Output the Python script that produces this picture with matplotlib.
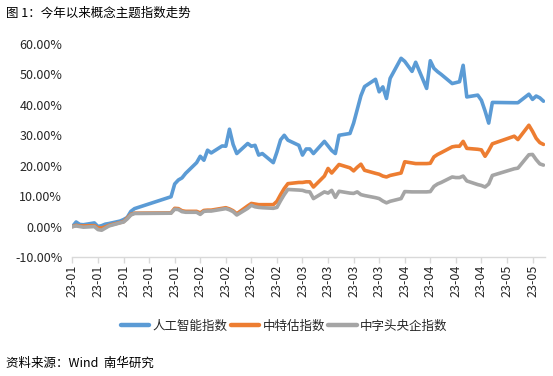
import matplotlib
matplotlib.use("Agg")
import matplotlib.pyplot as plt
import matplotlib.dates as mdates
import pandas as pd
import numpy as np

plt.rcParams['font.family'] = ['Noto Sans CJK SC', 'DejaVu Sans']

dates = (
    ['2023-01-%02d' % d for d in [3, 4, 5, 6, 9, 10, 11, 12, 13, 16, 17, 18, 19, 20, 30, 31]] +
    ['2023-02-%02d' % d for d in [1, 2, 3, 6, 7, 8, 9, 10, 13, 14, 15, 16, 17, 20, 21, 22, 23, 24, 27, 28]] +
    ['2023-03-%02d' % d for d in [1, 2, 3, 6, 7, 8, 9, 10, 13, 14, 15, 16, 17, 20, 21, 22, 23, 24, 27, 28, 29, 30, 31]] +
    ['2023-04-%02d' % d for d in [3, 4, 6, 7, 10, 11, 12, 13, 14, 17, 18, 19, 20, 21, 24, 25, 26, 27, 28]] +
    ['2023-05-%02d' % d for d in [4, 5, 8, 9, 10, 11, 12]]
)

ai_index = [
    # Jan
    0, 1.5, 0.7, 0.6, 1.2, 0, 0.3, 0.8, 1.0, 1.8, 2.3, 3.0, 5.0, 5.9, 9.8, 14.0,
    # Feb
    15.3, 16.0, 17.5, 21.0, 23.1, 21.8, 25.1, 24.2, 26.5, 26.4, 32.0, 27.0, 24.0, 27.3, 26.4, 26.7, 23.5, 24.0, 21.0, 24.5,
    # Mar
    28.5, 30.0, 28.4, 26.7, 23.5, 25.5, 25.5, 24.0, 28.0, 26.5, 25.0, 24.0, 30.0, 30.6, 34.0, 38.5, 43.0, 46.0, 48.4, 44.3, 45.9, 42.1, 48.7,
    # Apr
    55.3, 54.3, 51.0, 54.0, 45.4, 54.5, 52.0, 50.9, 50.0, 47.0, 47.3, 47.6, 53.0, 42.6, 43.2, 41.5, 38.0, 34.0, 40.8,
    # May
    40.7, 40.7, 43.5, 41.8, 42.9, 42.3, 41.2,
]

zte_index = [
    # Jan
    0, 0.4, 0.2, 0.2, 0.3, -0.4, -0.5, -0.1, 0.4, 1.3, 1.6, 2.8, 4.0, 4.4, 4.5, 6.0,
    # Feb
    5.9, 5.2, 5.0, 5.0, 4.5, 5.3, 5.4, 5.4, 6.0, 6.2, 5.8, 5.2, 4.2, 6.8, 7.6, 7.4, 7.2, 7.2, 7.2, 8.3,
    # Mar
    10.5, 12.5, 14.1, 14.5, 14.5, 14.7, 14.7, 13.0, 16.6, 19.1, 17.6, 19.0, 20.4, 19.3, 18.3, 19.5, 20.5, 18.5, 17.5, 17.2, 16.6, 16.3, 16.8,
    # Apr
    17.6, 21.3, 20.9, 20.7, 20.7, 20.8, 22.9, 23.7, 24.3, 26.2, 26.4, 26.4, 28.0, 25.7, 25.4, 25.2, 23.1, 25.0, 27.2,
    # May
    29.7, 28.6, 33.3, 31.3, 29.0, 27.6, 27.0,
]

soe_index = [
    # Jan
    0, 0.2, 0, -0.2, 0, -1.0, -1.2, -0.5, 0.2, 1.2, 1.5, 2.5, 3.8, 4.3, 4.4, 5.7,
    # Feb
    5.6, 4.9, 4.7, 4.7, 4.0, 5.0, 5.1, 5.1, 5.7, 5.9, 5.5, 4.9, 3.8, 6.0, 7.0, 6.5, 6.3, 6.2, 6.0, 6.3,
    # Mar
    8.5, 10.5, 12.2, 12.0, 11.9, 11.5, 11.4, 9.2, 11.4, 11.0, 11.9, 9.6, 11.6, 11.0, 10.9, 11.4, 10.5, 10.2, 9.5, 9.2, 8.4, 7.8, 8.3,
    # Apr
    9.2, 11.5, 11.4, 11.4, 11.4, 11.5, 13.2, 14.0, 14.5, 16.3, 16.1, 16.1, 16.6, 15.0, 13.8, 13.5, 13.0, 14.0, 16.8,
    # May
    19.0, 19.2, 23.6, 23.7, 22.0, 20.6, 20.2,
]

series_names = ['人工智能指数', '中特估指数', '中字头央企指数']
series_colors = ['#5B9BD5', '#ED7D31', '#A5A5A5']
yticks = [-10, 0, 10, 20, 30, 40, 50, 60]

x = pd.to_datetime(dates)

W, H = 553, 376
fig = plt.figure(figsize=(W / 100, H / 100), dpi=100)
ax = fig.add_axes([72 / W, 1 - 257 / H, (545 - 72) / W, (257 - 44) / H])

for vals, name, col in zip([ai_index, zte_index, soe_index], series_names, series_colors):
    ax.plot(x, vals, color=col, lw=2.6, label=name, solid_joinstyle='round', solid_capstyle='round')

ax.set_ylim(-10, 60)
ax.set_yticks(yticks)
ax.set_yticklabels([f'{v:.2f}%' for v in yticks])

start = pd.Timestamp('2023-01-03')
ax.set_xlim(start - pd.Timedelta(hours=3), pd.Timestamp('2023-05-12') + pd.Timedelta(hours=10))
ticks = pd.date_range(start, periods=19, freq='7D')
ax.set_xticks(ticks)
ax.xaxis.set_major_formatter(mdates.DateFormatter('%y-%m'))

for s in ['top', 'right', 'left']:
    ax.spines[s].set_visible(False)
ax.spines['bottom'].set_color('#D9D9D9')
ax.spines['bottom'].set_linewidth(1.0)

ax.tick_params(axis='y', length=0, pad=7, labelsize=9, labelcolor='#262626')
ax.tick_params(axis='x', length=4, width=1.0, color='#D9D9D9', pad=1.5,
               labelsize=9, labelcolor='#262626', labelrotation=90)

leg = fig.legend(loc='center', bbox_to_anchor=(284 / W, 1 - 326 / H), ncol=3, frameon=False,
                 fontsize=9, handlelength=2.3, handletextpad=0.25, columnspacing=0.25,
                 labelcolor='#262626')
for h in leg.get_lines():
    h.set_linewidth(3.2)

fig.text(6 / W, 1 - 13 / H, '图 1：今年以来概念主题指数走势', fontsize=9, va='center', ha='left', color='#000000')
fig.text(6 / W, 1 - 363 / H, '资料来源：Wind  南华研究', fontsize=9, va='center', ha='left', color='#000000')

fig.savefig('out.png', dpi=100)
